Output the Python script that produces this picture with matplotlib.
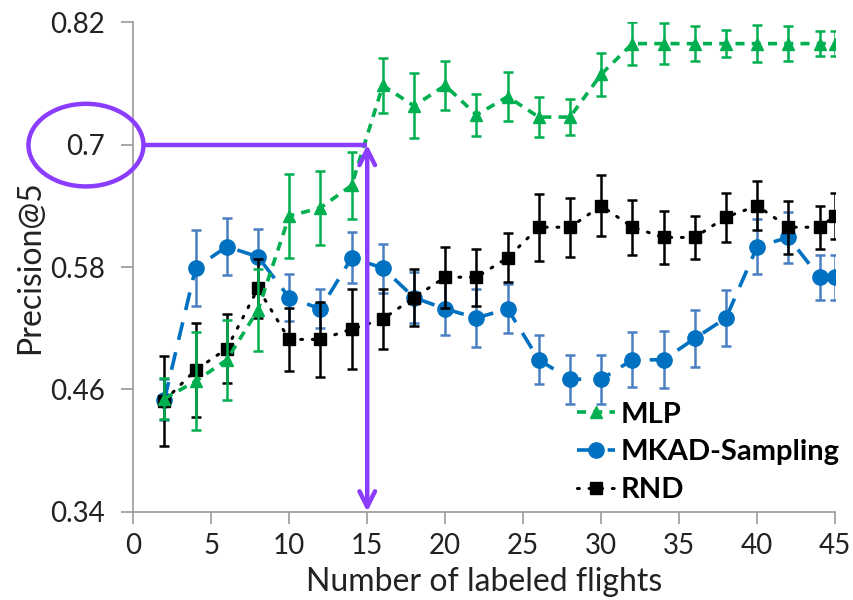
import matplotlib.pyplot as plt
from matplotlib.patches import Ellipse
import numpy as np

plt.rcParams["font.family"] = ["Lato", "DejaVu Sans"]

# number of labeled flights
flights = [2, 4, 6, 8, 10, 12, 14, 16, 18, 20, 22, 24, 26, 28, 30, 32, 34, 36, 38, 40, 42, 44, 45]

mlp = [0.451, 0.468, 0.489, 0.538, 0.630, 0.638, 0.660, 0.758, 0.738, 0.758, 0.729, 0.747,
       0.727, 0.727, 0.769, 0.799, 0.799, 0.799, 0.799, 0.799, 0.799, 0.799, 0.799]
mlp_err = [0.02, 0.048, 0.039, 0.04, 0.041, 0.036, 0.033, 0.027, 0.032, 0.024, 0.021, 0.024,
           0.02, 0.018, 0.021, 0.021, 0.02, 0.017, 0.0135, 0.018, 0.017, 0.012, 0.012]

mkad = [0.450, 0.579, 0.600, 0.590, 0.550, 0.539, 0.589, 0.579, 0.550, 0.539, 0.530, 0.539,
        0.489, 0.470, 0.470, 0.489, 0.489, 0.510, 0.530, 0.600, 0.609, 0.570, 0.570]
mkad_err = [0.02, 0.037, 0.028, 0.027, 0.023, 0.019, 0.025, 0.024, 0.025, 0.026, 0.028, 0.024,
            0.024, 0.024, 0.024, 0.027, 0.028, 0.028, 0.027, 0.027, 0.025, 0.022, 0.022]

rnd = [0.449, 0.479, 0.500, 0.559, 0.509, 0.509, 0.519, 0.529, 0.550, 0.570, 0.570, 0.589,
       0.619, 0.619, 0.640, 0.619, 0.609, 0.609, 0.629, 0.640, 0.619, 0.619, 0.630]
rnd_err = [0.044, 0.046, 0.034, 0.029, 0.031, 0.037, 0.039, 0.029, 0.028, 0.03, 0.028, 0.024,
           0.033, 0.029, 0.03, 0.027, 0.026, 0.021, 0.024, 0.024, 0.026, 0.021, 0.023]

yticks = [0.34, 0.46, 0.58, 0.7, 0.82]
ytick_labels = ["0.34", "0.46", "0.58", "0.7", "0.82"]
highlight_x = 15
highlight_y = 0.7

green = "#00B050"
blue = "#0070C0"
blue_err = "#4A7EC2"
purple = "#8B3DFF"

fig = plt.figure(figsize=(8.54, 6), dpi=100)
ax = fig.add_axes([0.156, 0.147, 0.822, 0.816])

ax.errorbar(flights, mkad, yerr=mkad_err, fmt="none", ecolor=blue_err, elinewidth=1.8,
            capsize=3.8, capthick=1.8, zorder=2)
l_mkad, = ax.plot(flights, mkad, color=blue, lw=2.6, dashes=(5, 3.5), marker="o",
                  markersize=11, zorder=3, label="MKAD-Sampling")

ax.errorbar(flights, rnd, yerr=rnd_err, fmt="none", ecolor="black", elinewidth=1.8,
            capsize=3.8, capthick=1.8, zorder=4)
l_rnd, = ax.plot(flights, rnd, color="black", lw=2.2, dashes=(0.6, 3.2), dash_capstyle="round",
                 marker="s", markersize=9, zorder=5, label="RND")

ax.errorbar(flights, mlp, yerr=mlp_err, fmt="none", ecolor=green, elinewidth=1.8,
            capsize=3.8, capthick=1.8, zorder=6)
l_mlp, = ax.plot(flights, mlp, color=green, lw=2.6, dashes=(2.5, 2), marker="^",
                 markersize=9, zorder=7, label="MLP")

ax.set_xlim(0, 45)
ax.set_ylim(0.34, 0.82)
ax.set_xticks(range(0, 46, 5))
ax.set_yticks(yticks)
ax.set_yticklabels(ytick_labels)
ax.tick_params(axis="both", labelsize=20, length=8.5, width=1.2, colors="#999999",
               labelcolor="#222222")
ax.tick_params(axis="y", pad=12)
ax.tick_params(axis="x", pad=7)
for s in ["top", "right"]:
    ax.spines[s].set_visible(False)
for s in ["left", "bottom"]:
    ax.spines[s].set_color("#999999")
    ax.spines[s].set_linewidth(1.2)

ax.set_xlabel("Number of labeled flights", fontsize=23, color="#222222")
ax.set_ylabel("Precision@5", fontsize=23, color="#222222")
ax.xaxis.set_label_coords(0.5, -0.113)
ax.yaxis.set_label_coords(-0.126, 0.5)

leg = ax.legend(handles=[l_mlp, l_mkad, l_rnd], loc="upper left", bbox_to_anchor=(0.632, 0.225),
                frameon=False, fontsize=21, handlelength=1.3, handletextpad=0.2,
                labelspacing=0.4, borderaxespad=0, borderpad=0)
for t in leg.get_texts():
    t.set_fontweight("bold")

# annotations: circle around the 0.7 tick, guide line and arrow at 15 flights
ell = Ellipse((-3.03, 0.6995), 7.37, 0.081, fill=False, edgecolor=purple, lw=3.2,
              clip_on=False, zorder=10)
ax.add_patch(ell)
ax.plot([0.65, highlight_x], [highlight_y, highlight_y], color=purple, lw=3.2,
        solid_capstyle="butt", clip_on=False, zorder=10)
ax.annotate("", xy=(highlight_x, 0.34), xytext=(highlight_x, highlight_y),
            arrowprops=dict(arrowstyle="<->", color=purple, lw=3.2, mutation_scale=28,
                            shrinkA=0, shrinkB=0), zorder=10, annotation_clip=False)

fig.savefig("out.png", dpi=100)
